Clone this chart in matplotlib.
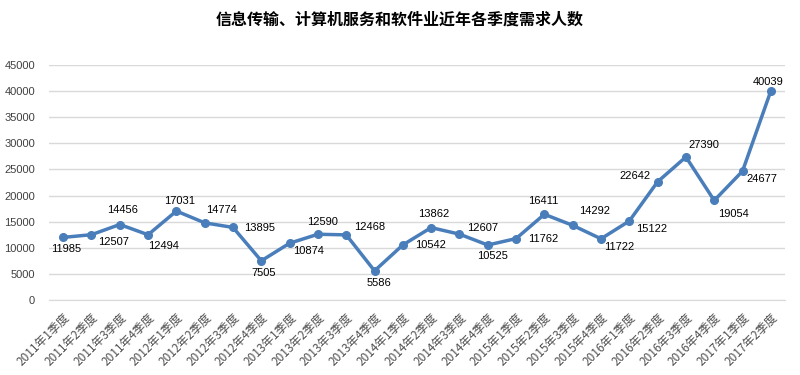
import matplotlib
matplotlib.use("Agg")
import matplotlib.pyplot as plt

plt.rcParams['font.family'] = ['Noto Sans CJK SC', 'DejaVu Sans']

title = "信息传输、计算机服务和软件业近年各季度需求人数"

years = [2011, 2012, 2013, 2014, 2015, 2016, 2017]
quarters = [f"{y}年{q}季度" for y in years for q in (1, 2, 3, 4)][:26]

demand = [11985, 12507, 14456, 12494, 17031, 14774, 13895, 7505,
          10874, 12590, 12468, 5586, 10542, 13862, 12607, 10525,
          11762, 16411, 14292, 11722, 15122, 22642, 27390, 19054,
          24677, 40039]

# label offsets in pixels (dx, dy), y up
label_off = [(3, -12), (22, -7), (3, 15), (15, -11), (3, 10), (17, 13),
             (27, -1), (2, -12), (19, -8), (5, 12), (23, 8), (4, -12),
             (28, 0), (3, 14), (23, 6), (5, -11), (27, 0), (-1, 13),
             (22, 14), (18, -8), (22, -8), (-23, 6), (18, 12), (19, -14),
             (19, -8), (-3, 9)]

line_color = "#4a7ebb"
text_gray = "#404040"

fig = plt.figure(figsize=(8, 3.75), dpi=100)
ax = fig.add_axes([0.06125, 0.2, 0.92, 0.6267])

x = list(range(len(demand)))
ax.plot(x, demand, color=line_color, lw=2.5, marker='o', ms=5.5, zorder=3)

for i, v in enumerate(demand):
    dx, dy = label_off[i]
    ax.annotate(str(v), (i, v), xytext=(dx, dy), textcoords='offset pixels',
                ha='center', va='center', fontsize=8, color='black',
                family=['Liberation Sans', 'DejaVu Sans'])

ax.set_xlim(-0.5, len(demand) - 0.5)
ax.set_ylim(0, 45000)
ax.set_yticks(range(0, 45001, 5000))
ax.set_yticklabels([str(t) for t in range(0, 45001, 5000)],
                   family=['Liberation Sans', 'DejaVu Sans'], fontsize=8, color=text_gray)
ax.set_xticks(x)
ax.set_xticklabels(quarters, rotation=45, ha='right', va='top',
                   rotation_mode='anchor', fontsize=8.5, color="#505050")
ax.tick_params(axis='both', length=0)
ax.tick_params(axis='y', pad=10)
ax.tick_params(axis='x', pad=8)

ax.grid(axis='y', color="#d9d9d9", lw=1)
ax.set_axisbelow(True)
for s in ['left', 'right', 'top']:
    ax.spines[s].set_visible(False)
ax.spines['bottom'].set_color("#d9d9d9")

fig.text(0.5, 0.949, title, ha='center', va='center', fontsize=11.5,
         fontweight='bold', color='black')

fig.savefig("out.png", dpi=100)
